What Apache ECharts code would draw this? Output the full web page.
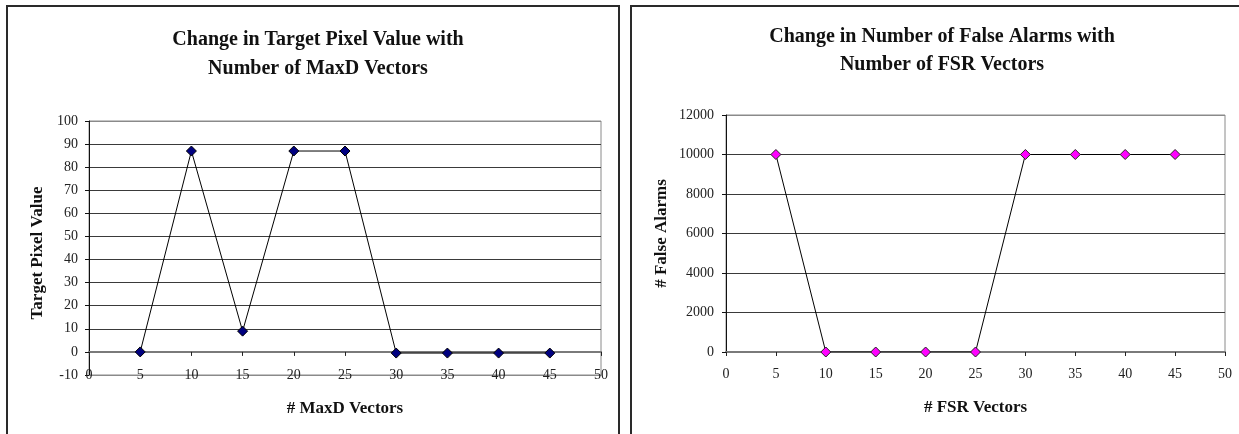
<!DOCTYPE html>
<html>
<head>
<meta charset="utf-8">
<script src="https://cdn.jsdelivr.net/npm/echarts@6/dist/echarts.min.js"></script>
<style>
  html, body { margin: 0; padding: 0; background: #fff; }
  #chart { width: 1239px; height: 434px; }
</style>
</head>
<body>
<div id="chart"></div>
<script>
// Number of vectors used (shared x values for both panels)
const vectorCounts = [5, 10, 15, 20, 25, 30, 35, 40, 45];
// Target pixel value vs number of MaxD vectors
const targetPixelValues = [0, 87, 9, 87, 87, -0.5, -0.5, -0.5, -0.5];
// False alarm count vs number of FSR vectors
const falseAlarms = [10000, 0, 0, 0, 0, 10000, 10000, 10000, 10000];

const leftTitle = 'Change in Target Pixel Value with\nNumber of MaxD Vectors';
const rightTitle = 'Change in Number of False Alarms with\nNumber of FSR Vectors';
const leftXName = '# MaxD Vectors';
const leftYName = 'Target Pixel Value';
const rightXName = '# FSR Vectors';
const rightYName = '# False Alarms';

const serif = '"Liberation Serif", "Times New Roman", serif';
const gridColor = '#3a3a3a';
const frameGray = '#8a8a8a';
const labelStyle = { fontFamily: serif, fontSize: 14, color: '#222' };
const nameStyle = { fontFamily: serif, fontSize: 17, fontWeight: 'bold', color: '#111' };

function pairs(xs, ys) { return xs.map((x, i) => [x, ys[i]]); }

// Gridline colours: the lowest and highest lines belong to the plot frame
function splitColors(count) {
  const c = [];
  for (let i = 0; i < count; i++) c.push(i === 0 || i === count - 1 ? frameGray : gridColor);
  return c;
}

const plainNumber = v => String(v);

const chart = echarts.init(document.getElementById('chart'), null, { renderer: 'canvas' });

chart.setOption({
  backgroundColor: '#fff',
  animation: false,
  title: [
    {
      text: leftTitle, left: 313, top: 20, textAlign: 'center',
      textStyle: { fontFamily: serif, fontSize: 20, fontWeight: 'bold', color: '#111', lineHeight: 29 }
    },
    {
      text: rightTitle, left: 937, top: 18, textAlign: 'center',
      textStyle: { fontFamily: serif, fontSize: 20, fontWeight: 'bold', color: '#111', lineHeight: 28 }
    }
  ],
  graphic: [
    { type: 'rect', shape: { x: 7, y: 6, width: 612, height: 500 }, style: { fill: 'none', stroke: '#2a2a2a', lineWidth: 2 }, silent: true },
    { type: 'rect', shape: { x: 631, y: 6, width: 700, height: 500 }, style: { fill: 'none', stroke: '#2a2a2a', lineWidth: 2 }, silent: true }
  ],
  grid: [
    { left: 89, top: 121, width: 512, height: 254, show: true, borderColor: frameGray, borderWidth: 1, backgroundColor: 'transparent' },
    { left: 726, top: 115, width: 499, height: 237, show: true, borderColor: frameGray, borderWidth: 1, backgroundColor: 'transparent' }
  ],
  xAxis: [
    {
      // bottom axis carrying the labels of the left panel
      type: 'value', gridIndex: 0, min: 0, max: 50, interval: 5, position: 'bottom',
      axisLine: { onZero: false, lineStyle: { color: frameGray, width: 1 } },
      axisTick: { show: false },
      axisLabel: { ...labelStyle, margin: -7, formatter: plainNumber },
      splitLine: { show: false },
      name: leftXName, nameLocation: 'middle', nameGap: 25, nameTextStyle: nameStyle
    },
    {
      // zero line of the left panel with its tick marks
      type: 'value', gridIndex: 0, min: 0, max: 50, interval: 5, position: 'bottom',
      axisLine: { onZero: true, lineStyle: { color: '#7a7a7a', width: 2 } },
      axisTick: { show: true, length: 4, lineStyle: { color: '#222', width: 1 } },
      axisLabel: { show: false },
      splitLine: { show: false }
    },
    {
      type: 'value', gridIndex: 1, min: 0, max: 50, interval: 5, position: 'bottom',
      axisLine: { lineStyle: { color: '#7a7a7a', width: 2 } },
      axisTick: { show: true, length: 4, lineStyle: { color: '#222', width: 1 } },
      axisLabel: { ...labelStyle, margin: 15, formatter: plainNumber },
      splitLine: { show: false },
      name: rightXName, nameLocation: 'middle', nameGap: 47, nameTextStyle: nameStyle
    }
  ],
  yAxis: [
    {
      type: 'value', gridIndex: 0, min: -10, max: 100, interval: 10,
      axisLine: { show: true, onZero: false, lineStyle: { color: '#111', width: 1 } },
      axisTick: { show: true, length: 4, lineStyle: { color: '#111' } },
      axisLabel: { ...labelStyle, margin: 11, formatter: plainNumber },
      splitLine: { show: true, lineStyle: { color: splitColors(12), width: 1 } },
      name: leftYName, nameLocation: 'middle', nameGap: 43, nameRotate: 90,
      nameTextStyle: { ...nameStyle, padding: [0, 10, 0, 0] }
    },
    {
      type: 'value', gridIndex: 1, min: 0, max: 12000, interval: 2000,
      axisLine: { show: true, onZero: false, lineStyle: { color: '#111', width: 1 } },
      axisTick: { show: true, length: 4, lineStyle: { color: '#111' } },
      axisLabel: { ...labelStyle, margin: 12, formatter: plainNumber },
      splitLine: { show: true, lineStyle: { color: splitColors(7).map((c, i) => i === 0 ? '#7a7a7a' : c), width: 1 } },
      name: rightYName, nameLocation: 'middle', nameGap: 56, nameRotate: 90,
      nameTextStyle: nameStyle
    }
  ],
  series: [
    {
      type: 'line', xAxisIndex: 0, yAxisIndex: 0,
      data: pairs(vectorCounts, targetPixelValues),
      symbol: 'diamond', symbolSize: 10,
      lineStyle: { color: '#000', width: 1 },
      itemStyle: { color: '#000080', borderColor: '#000', borderWidth: 1 },
      z: 5
    },
    {
      type: 'line', xAxisIndex: 2, yAxisIndex: 1,
      data: pairs(vectorCounts, falseAlarms),
      symbol: 'diamond', symbolSize: 10,
      lineStyle: { color: '#000', width: 1 },
      itemStyle: { color: '#ff00ff', borderColor: '#222', borderWidth: 1 },
      z: 5
    }
  ]
});
</script>
</body>
</html>
